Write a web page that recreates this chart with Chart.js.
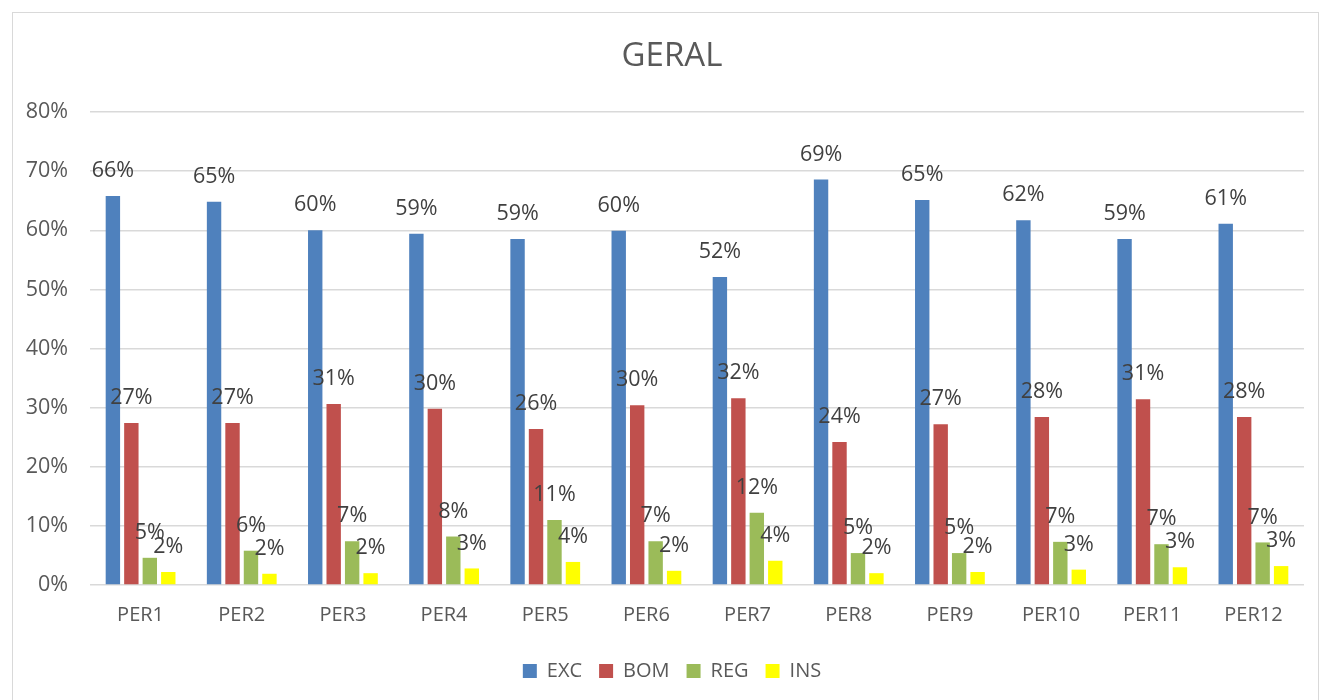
<!DOCTYPE html>
<html>
<head>
<meta charset="utf-8">
<script src="https://cdn.jsdelivr.net/npm/chart.js@4/dist/chart.umd.min.js"></script>
<style>
  html, body { margin: 0; padding: 0; background: #fff; }
  #c { display: block; }
</style>
</head>
<body>
<canvas id="c" width="1325" height="700"></canvas>
<script>
const categories = ['PER1','PER2','PER3','PER4','PER5','PER6','PER7','PER8','PER9','PER10','PER11','PER12'];
const seriesNames = ['EXC','BOM','REG','INS'];
const exc = [65.8, 64.8, 60.0, 59.4, 58.5, 59.9, 52.1, 68.6, 65.1, 61.7, 58.5, 61.1];
const bom = [27.4, 27.4, 30.6, 29.8, 26.4, 30.4, 31.6, 24.2, 27.2, 28.4, 31.4, 28.4];
const reg = [4.6, 5.8, 7.4, 8.2, 11.0, 7.4, 12.2, 5.4, 5.4, 7.3, 6.9, 7.2];
const ins = [2.2, 1.9, 2.0, 2.8, 3.9, 2.4, 4.1, 2.0, 2.2, 2.6, 3.0, 3.2];
const yTicks = [0, 10, 20, 30, 40, 50, 60, 70, 80];
const colors = ['#4F81BD', '#C0504D', '#9BBB59', '#FFFF00'];

const FONT = "'Open Sans', 'Liberation Sans', sans-serif";

const borderPlugin = {
  id: 'outerBorder',
  beforeDraw(chart) {
    const ctx = chart.ctx;
    ctx.save();
    ctx.fillStyle = '#fff';
    ctx.fillRect(0, 0, chart.width, chart.height);
    ctx.strokeStyle = '#d9d9d9';
    ctx.lineWidth = 1;
    ctx.strokeRect(12.5, 12.5, 1306, 720);
    ctx.restore();
  }
};

// y-axis tick labels drawn from the library's own y scale (avoids clipping of the narrow axis box)
const yLabelPlugin = {
  id: 'yLabels',
  afterDraw(chart) {
    const ctx = chart.ctx;
    const y = chart.scales.y;
    ctx.save();
    ctx.font = '21.5px ' + FONT;
    ctx.fillStyle = '#595959';
    ctx.textAlign = 'right';
    ctx.textBaseline = 'middle';
    y.ticks.forEach(t => {
      ctx.fillText(t.value + '%', chart.chartArea.left - 22, y.getPixelForValue(t.value));
    });
    ctx.restore();
  }
};

const labelPlugin = {
  id: 'valueLabels',
  afterDatasetsDraw(chart) {
    const ctx = chart.ctx;
    ctx.save();
    ctx.font = '21.5px ' + FONT;
    ctx.fillStyle = '#404040';
    ctx.textAlign = 'center';
    ctx.textBaseline = 'middle';
    chart.data.datasets.forEach((ds, di) => {
      const meta = chart.getDatasetMeta(di);
      meta.data.forEach((bar, i) => {
        ctx.fillText(Math.round(ds.data[i]) + '%', bar.x, bar.y - 25);
      });
    });
    ctx.restore();
  }
};

const allSeries = [exc, bom, reg, ins];

new Chart(document.getElementById('c'), {
  type: 'bar',
  data: {
    labels: categories,
    datasets: seriesNames.map((n, i) => ({
      label: n,
      data: allSeries[i],
      backgroundColor: colors[i],
      borderWidth: 0,
      categoryPercentage: 0.73,
      barPercentage: 0.78
    }))
  },
  options: {
    responsive: false,
    devicePixelRatio: 1,
    animation: false,
    layout: { padding: { left: 40, right: 21, top: 21, bottom: 9 } },
    plugins: {
      title: {
        display: true,
        text: 'GERAL',
        color: '#595959',
        font: { family: FONT, size: 33, weight: 'normal', lineHeight: 1.2 },
        padding: { top: 16, bottom: 35.4 }
      },
      legend: {
        display: true,
        position: 'bottom',
        labels: {
          color: '#595959',
          font: { family: FONT, size: 20 },
          boxWidth: 14,
          boxHeight: 14,
          padding: 17
        }
      },
      tooltip: { enabled: false }
    },
    scales: {
      x: {
        grid: { display: false, drawTicks: false },
        border: { display: false },
        ticks: { color: '#595959', font: { family: FONT, size: 20 }, padding: 18 },
        afterFit(s) { s.height = 59; }
      },
      y: {
        min: 0,
        max: 80,
        afterBuildTicks(s) { s.ticks = yTicks.map(v => ({ value: v })); },
        grid: { color: '#d9d9d9', lineWidth: 1.5, drawTicks: false },
        border: { display: false },
        ticks: { display: false },
        afterFit(s) { s.width = 50; }
      }
    }
  },
  plugins: [borderPlugin, yLabelPlugin, labelPlugin]
});
</script>
</body>
</html>
